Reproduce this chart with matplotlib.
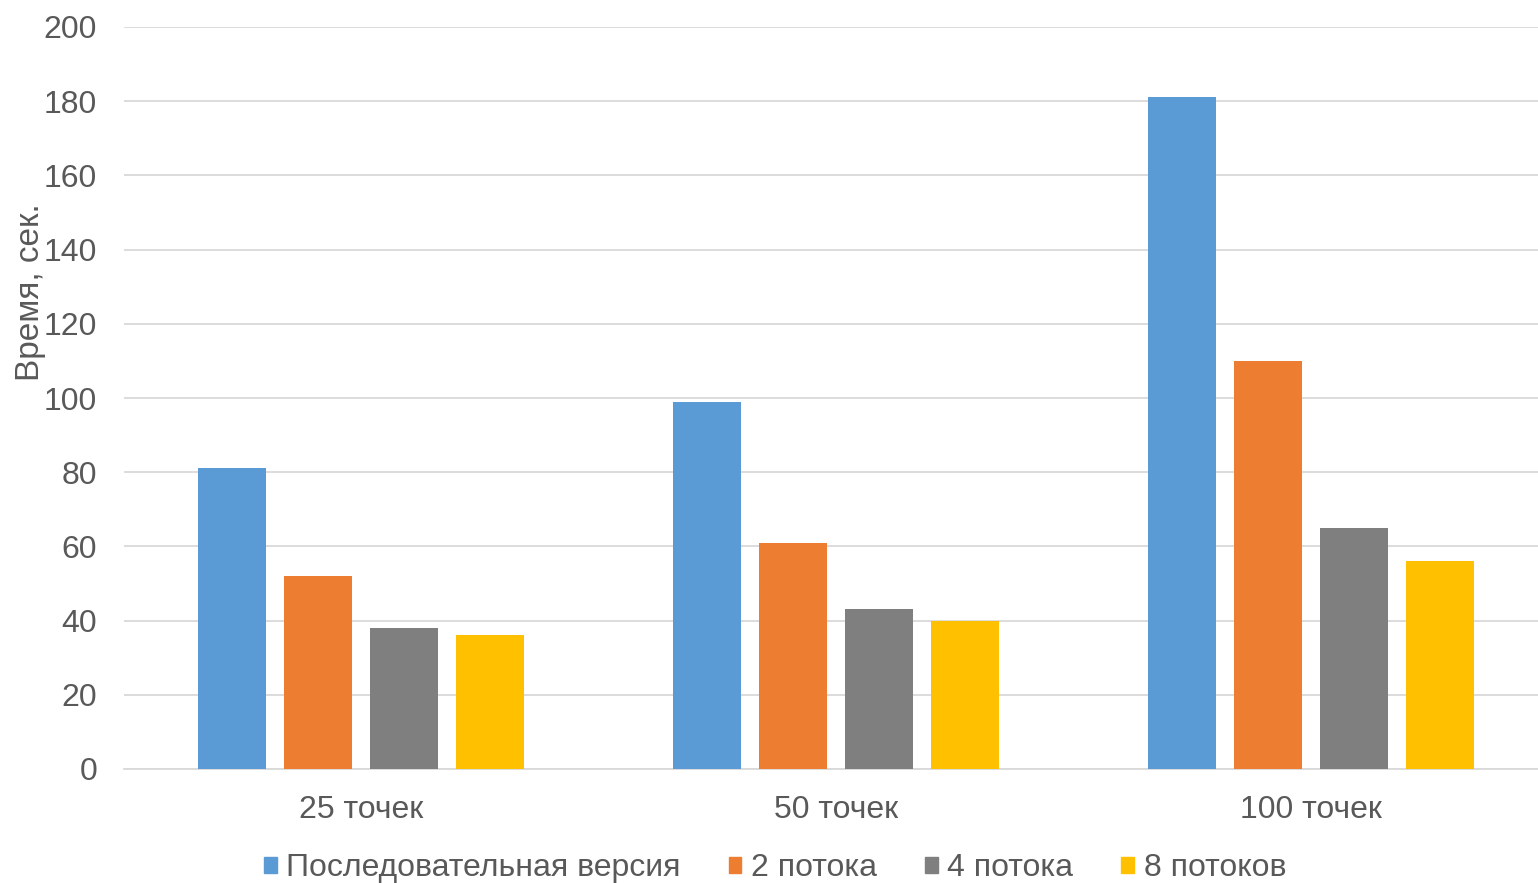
import numpy as np
import matplotlib
matplotlib.use("Agg")
import matplotlib.pyplot as plt
from matplotlib.patches import Patch

# данные
categories = ["25 точек", "50 точек", "100 точек"]
series_names = ["Последовательная версия", "2 потока", "4 потока", "8 потоков"]
seq_times = [81, 99, 181]
two_threads = [52, 61, 110]
four_threads = [38, 43, 65]
eight_threads = [36, 40, 56]
colors = ["#5b9bd5", "#ed7d31", "#7f7f7f", "#ffc000"]
yticks = [0, 20, 40, 60, 80, 100, 120, 140, 160, 180, 200]

TEXT = "#595959"
GRID = "#d9d9d9"
FS = 23

plt.rcParams["font.family"] = ["Liberation Sans", "DejaVu Sans"]

fig = plt.figure(figsize=(15.38, 8.83), dpi=100)
W, H = 1538, 883
ax = fig.add_axes([123.5 / W, 1 - 769 / H, 1425 / W, (769 - 27) / H])

x = np.arange(len(categories))
width = 68 / 475
step = 86 / 475
all_series = [seq_times, two_threads, four_threads, eight_threads]
for i, (vals, col) in enumerate(zip(all_series, colors)):
    ax.bar(x + (i - 1.5) * step, vals, width, color=col, zorder=3)

ax.set_xlim(-0.5, 2.5)
ax.set_ylim(0, 200)
ax.set_yticks(yticks)
ax.set_xticks(x)
ax.set_xticklabels(categories)
ax.yaxis.grid(True, color=GRID, linewidth=1.3, zorder=0)
for s in ["top", "right", "left"]:
    ax.spines[s].set_visible(False)
ax.spines["bottom"].set_color(GRID)
ax.spines["bottom"].set_linewidth(1.3)
ax.tick_params(axis="y", length=0, pad=19, labelsize=FS, labelcolor=TEXT)
ax.tick_params(axis="x", length=0, pad=19, labelsize=FS, labelcolor=TEXT)

fig.text(30 / W, 1 - 292 / H, "Время, сек.", rotation=90, ha="center", va="center",
         fontsize=24, color=TEXT)

handles = [Patch(color=c) for c in colors]
fig.legend(handles, series_names, loc="center", bbox_to_anchor=(775 / W, 1 - 868 / H),
           ncol=4, frameon=False, fontsize=FS, labelcolor=TEXT,
           handlelength=0.4, handleheight=0.4, handletextpad=0.3,
           columnspacing=1.5, borderaxespad=0)

fig.savefig("out.png", dpi=100)
